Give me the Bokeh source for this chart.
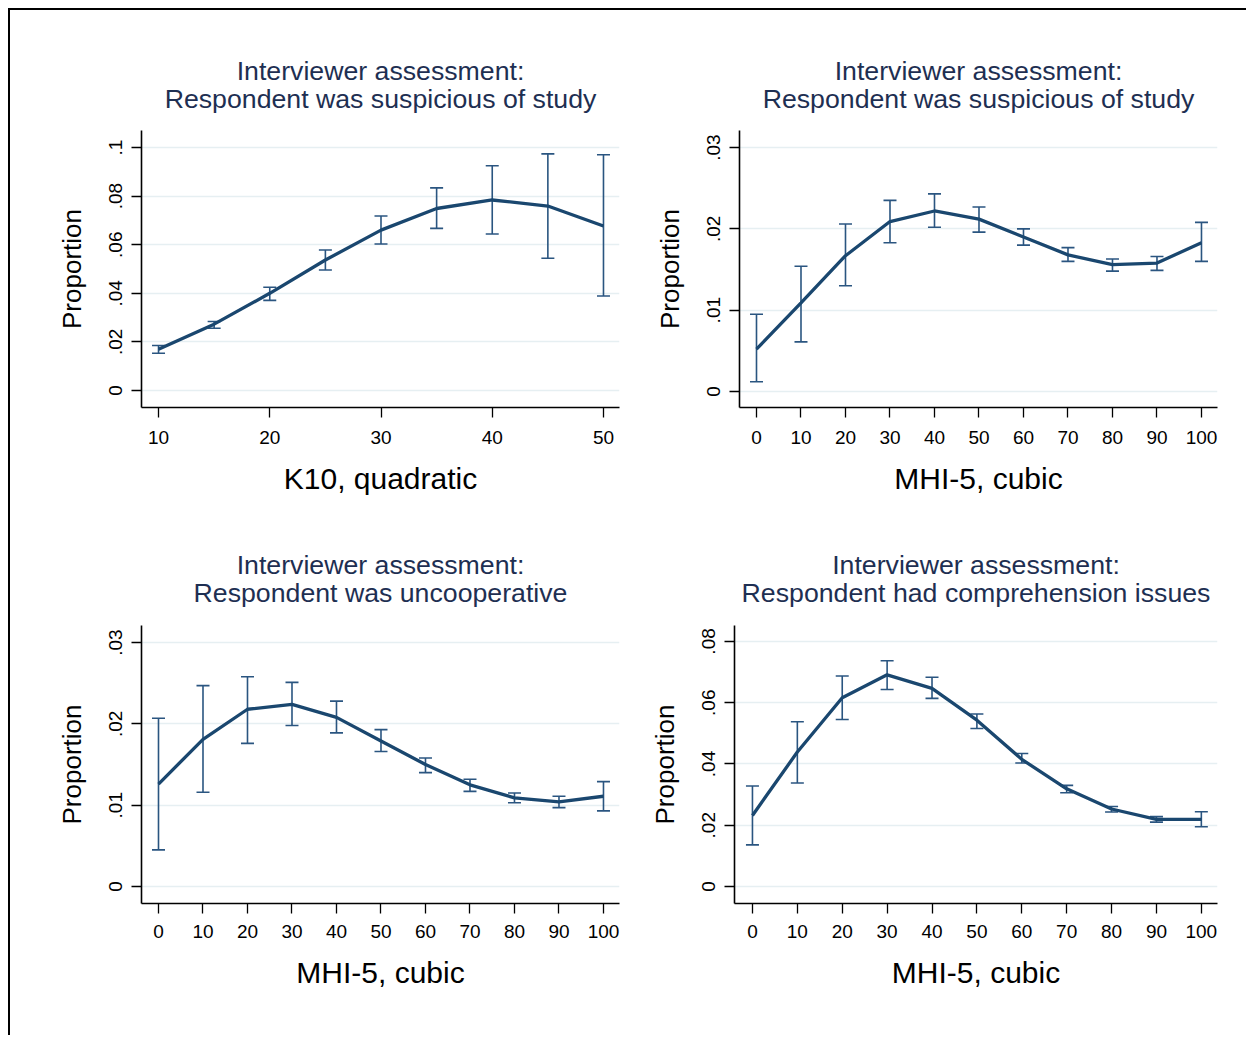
from bokeh.plotting import figure
from bokeh.models import Range1d, FixedTicker, ColumnDataSource, Whisker, TeeHead, Title
from bokeh.layouts import row, column
from bokeh.embed import file_html
from bokeh.resources import INLINE

# ---------------- data ----------------
title_line1 = "Interviewer assessment:"
titles_line2 = ["Respondent was suspicious of study",
                "Respondent was suspicious of study",
                "Respondent was uncooperative",
                "Respondent had comprehension issues"]
x_titles = ["K10, quadratic", "MHI-5, cubic", "MHI-5, cubic", "MHI-5, cubic"]
y_title = "Proportion"

k10_x = [10, 15, 20, 25, 30, 35, 40, 45, 50]
mhi_x = [0, 10, 20, 30, 40, 50, 60, 70, 80, 90, 100]

susp_k10_est = [0.0170, 0.0273, 0.0400, 0.0537, 0.0660, 0.0749, 0.0784, 0.0759, 0.0677]
susp_k10_hi = [0.0185, 0.0284, 0.0425, 0.0578, 0.0718, 0.0834, 0.0925, 0.0974, 0.0970]
susp_k10_lo = [0.0153, 0.0256, 0.0371, 0.0496, 0.0603, 0.0667, 0.0644, 0.0544, 0.0389]

susp_mhi_est = [0.0052, 0.0109, 0.0167, 0.0209, 0.0222, 0.0212, 0.0190, 0.0168, 0.0156, 0.0158, 0.0183]
susp_mhi_hi = [0.0095, 0.0154, 0.0206, 0.0235, 0.0243, 0.0227, 0.0200, 0.0177, 0.0163, 0.0166, 0.0208]
susp_mhi_lo = [0.0012, 0.0061, 0.0130, 0.0183, 0.0202, 0.0196, 0.0180, 0.0160, 0.0148, 0.0149, 0.0160]

uncoop_est = [0.0126, 0.0181, 0.0218, 0.0224, 0.0208, 0.0179, 0.0150, 0.0125, 0.0109, 0.0104, 0.0111]
uncoop_hi = [0.0207, 0.0247, 0.0258, 0.0251, 0.0228, 0.0193, 0.0158, 0.0132, 0.0115, 0.0111, 0.0129]
uncoop_lo = [0.0045, 0.0116, 0.0176, 0.0198, 0.0189, 0.0166, 0.0140, 0.0117, 0.0103, 0.0097, 0.0093]

compr_est = [0.0232, 0.0439, 0.0616, 0.0691, 0.0647, 0.0543, 0.0415, 0.0319, 0.0253, 0.0219, 0.0219]
compr_hi = [0.0328, 0.0538, 0.0687, 0.0737, 0.0683, 0.0563, 0.0434, 0.0330, 0.0261, 0.0228, 0.0244]
compr_lo = [0.0136, 0.0338, 0.0545, 0.0643, 0.0614, 0.0516, 0.0403, 0.0306, 0.0243, 0.0210, 0.0195]

k10_ticks = [10, 20, 30, 40, 50]
mhi_ticks = [0, 10, 20, 30, 40, 50, 60, 70, 80, 90, 100]
yticks_a = [0, 0.02, 0.04, 0.06, 0.08, 0.1]
ylabels_a = ["0", ".02", ".04", ".06", ".08", ".1"]
yticks_b = [0, 0.01, 0.02, 0.03]
ylabels_b = ["0", ".01", ".02", ".03"]
yticks_c = [0, 0.02, 0.04, 0.06, 0.08]
ylabels_c = ["0", ".02", ".04", ".06", ".08"]

# ---------------- style ----------------
FONT = "Liberation Sans"
NAVY = "#1a476f"
CI_COL = "#2a5580"
TITLE_COL = "#1e2f52"
GRID_COL = "#e6eff2"


def make_panel(xs, est, lo, hi, xr, yr, xticks, yticks, ylabels, line2, xtitle,
               width, height, mb_left, mb_right, mb_top, mb_bottom, xstand=13,
               s2=29, s1=-33):
    p = figure(width=width, height=height, output_backend="svg", toolbar_location=None,
               x_range=Range1d(*xr), y_range=Range1d(*yr),
               min_border_left=mb_left, min_border_right=mb_right,
               min_border_top=mb_top, min_border_bottom=mb_bottom)
    p.outline_line_color = None
    p.xgrid.grid_line_color = None
    p.ygrid.grid_line_color = GRID_COL
    p.ygrid.grid_line_width = 1.5

    src = ColumnDataSource(dict(x=xs, est=est, lo=lo, hi=hi))
    w = Whisker(source=src, base="x", lower="lo", upper="hi", dimension="height",
                line_color=CI_COL, line_width=1.6,
                lower_head=TeeHead(size=13, line_color=CI_COL, line_width=1.6),
                upper_head=TeeHead(size=13, line_color=CI_COL, line_width=1.6))
    p.add_layout(w)
    p.line("x", "est", source=src, line_color=NAVY, line_width=3.3)

    for ax in (p.xaxis[0], p.yaxis[0]):
        ax.axis_line_color = "black"
        ax.axis_line_width = 1.6
        ax.major_tick_line_color = "black"
        ax.major_tick_line_width = 1.3
        ax.major_tick_out = 10
        ax.major_tick_in = 0
        ax.minor_tick_line_color = None
        ax.major_label_text_font = FONT
        ax.major_label_text_font_size = "19px"
        ax.major_label_text_color = "black"
        ax.axis_label_text_font = FONT
        ax.axis_label_text_font_style = "normal"
        ax.axis_label_text_color = "black"

    p.xaxis.ticker = FixedTicker(ticks=xticks)
    p.xaxis.major_label_standoff = xstand
    p.xaxis.axis_label = xtitle
    p.xaxis.axis_label_text_font_size = "30px"
    p.xaxis.axis_label_standoff = 15

    p.yaxis.ticker = FixedTicker(ticks=yticks)
    p.yaxis.major_label_overrides = {t: l for t, l in zip(yticks, ylabels)}
    p.yaxis.major_label_orientation = "vertical"
    p.yaxis.major_label_standoff = 9
    p.yaxis.axis_label = y_title
    p.yaxis.axis_label_text_font_size = "26px"
    p.yaxis.axis_label_standoff = 20

    t2 = Title(text=line2, align="center", vertical_align="top", text_font=FONT,
               text_font_size="26.7px", text_font_style="normal", text_color=TITLE_COL,
               standoff=s2)
    t1 = Title(text=title_line1, align="center", vertical_align="bottom", text_font=FONT,
               text_font_size="26.7px", text_font_style="normal", text_color=TITLE_COL,
               standoff=s1)
    p.add_layout(t2, "above")
    p.add_layout(t1, "above")
    return p


p1 = make_panel(k10_x, susp_k10_est, susp_k10_lo, susp_k10_hi,
                (8.47, 51.44), (-0.0070, 0.1070), k10_ticks, yticks_a, ylabels_a,
                titles_line2[0], x_titles[0], 620, 505, 131, 11, 120, 108)
p2 = make_panel(mhi_x, susp_mhi_est, susp_mhi_lo, susp_mhi_hi,
                (-3.82, 103.6), (-0.00197, 0.0321), mhi_ticks, yticks_b, ylabels_b,
                titles_line2[1], x_titles[1], 616, 505, 109, 29, 120, 108)
p3 = make_panel(mhi_x, uncoop_est, uncoop_lo, uncoop_hi,
                (-3.82, 103.6), (-0.00209, 0.0321), mhi_ticks, yticks_b, ylabels_b,
                titles_line2[2], x_titles[2], 620, 520, 131, 11, 110, 132, xstand=11,
                s2=31, s1=-35)
p4 = make_panel(mhi_x, compr_est, compr_lo, compr_hi,
                (-4.0, 103.6), (-0.00555, 0.0852), mhi_ticks, yticks_c, ylabels_c,
                titles_line2[3], x_titles[3], 616, 520, 104, 29, 110, 132, xstand=11,
                s2=31, s1=-35)

layout = column(row(p1, p2), row(p3, p4),
                styles={"border-top": "2px solid black", "border-left": "2px solid black",
                        "margin-left": "8px", "margin-top": "8px"})

open("out.html", "w").write(file_html(layout, INLINE))
